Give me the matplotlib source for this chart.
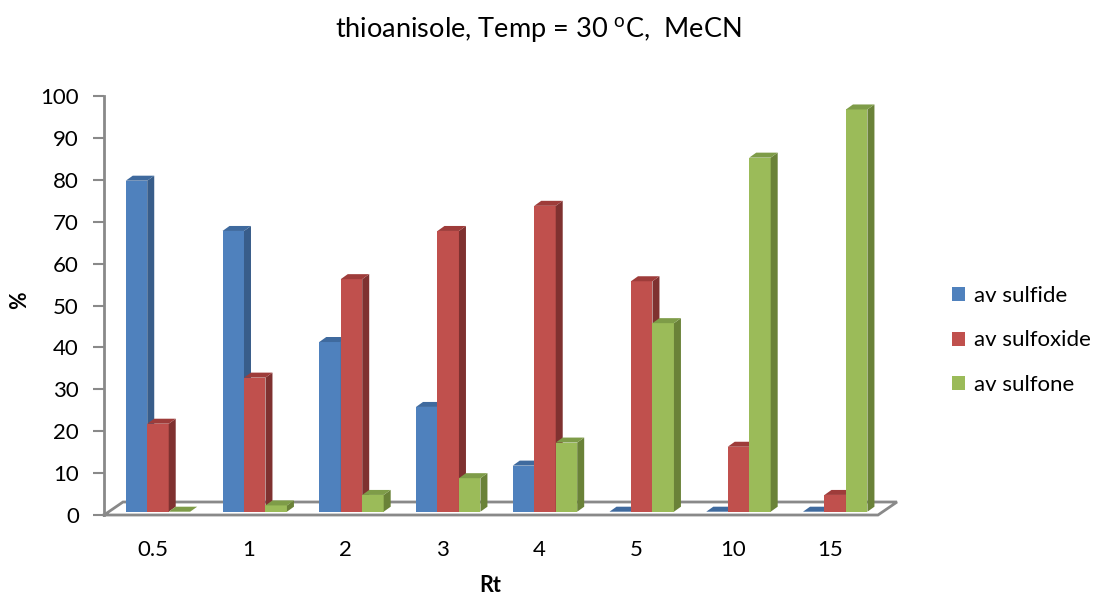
import matplotlib
matplotlib.use("Agg")
import matplotlib.pyplot as plt
from matplotlib.patches import Polygon, Patch

plt.rcParams["font.family"] = ["Lato", "DejaVu Sans"]
plt.rcParams["mathtext.fontset"] = "custom"
plt.rcParams["mathtext.rm"] = "Lato"

# Data
categories = ["0.5", "1", "2", "3", "4", "5", "10", "15"]
series_names = ["av sulfide", "av sulfoxide", "av sulfone"]
sulfide = [79, 67, 40.5, 25, 11, 0, 0, 0]
sulfoxide = [21, 32, 55.5, 67, 73, 55, 15.5, 4]
sulfone = [0, 1.5, 4, 8, 16.5, 45, 84.5, 96]
values = [sulfide, sulfoxide, sulfone]

# (front, side, top) shades per series
shades = [
    ("#4F81BD", "#385D8A", "#3F6A9E"),
    ("#C0504D", "#7F3130", "#9E3C3A"),
    ("#9BBB59", "#6A8238", "#7E9C48"),
]

W, H, DPI = 1097, 597, 100
fig = plt.figure(figsize=(W / DPI, H / DPI), dpi=DPI)
ax_left, ax_bottom, ax_w, ax_h = 104, 82, 774, 419
ax = fig.add_axes([ax_left / W, ax_bottom / H, ax_w / W, ax_h / H])
n = len(categories)
ax.set_xlim(-0.5, n - 0.5)
ax.set_ylim(0, 100)

# pixel -> data unit conversion for the oblique depth
px_x = ax_w / n
px_y = ax_h / 100.0

def dx(px):
    return px / px_x

def dy(px):
    return px / px_y

grey = "#898989"

# floor of the plot (parallelogram)
fd_x, fd_y = dx(19), dy(13)
floor = [(-0.5, 0), (n - 0.5, 0), (n - 0.5 + fd_x, fd_y), (-0.5 + fd_x, fd_y), (-0.5, 0)]
ax.plot([p[0] for p in floor], [p[1] for p in floor], color=grey, lw=2.0,
        clip_on=False, zorder=1, solid_joinstyle="miter")

# bars with front, side and top faces
bw = 0.222
shift_x, shift_y = dx(5.6), dy(3.3)
bd_x, bd_y = dx(7), dy(5)
for i in range(n):
    for j in range(3):
        v = values[j][i]
        x0 = i + shift_x + (j - 1.5) * bw
        x1 = x0 + bw
        y0 = shift_y
        y1 = y0 + v
        front, side, top = shades[j]
        z = 3 + i * 3 + j
        if v > 0:
            ax.add_patch(Polygon([(x0, y0), (x1, y0), (x1, y1), (x0, y1)],
                                 closed=True, facecolor=front, edgecolor="none",
                                 zorder=z, clip_on=False))
            ax.add_patch(Polygon([(x1, y0), (x1 + bd_x, y0 + bd_y), (x1 + bd_x, y1 + bd_y), (x1, y1)],
                                 closed=True, facecolor=side, edgecolor="none",
                                 zorder=z, clip_on=False))
        ax.add_patch(Polygon([(x0, y1), (x1, y1), (x1 + bd_x, y1 + bd_y), (x0 + bd_x, y1 + bd_y)],
                             closed=True, facecolor=top, edgecolor="none",
                             zorder=z, clip_on=False))

# axes styling
for s in ["top", "right", "bottom"]:
    ax.spines[s].set_visible(False)
ax.spines["left"].set_color(grey)
ax.spines["left"].set_linewidth(2.0)
ax.set_yticks(range(0, 101, 10))
ax.tick_params(axis="y", length=8, width=1.5, color=grey, labelsize=16, pad=10)
ax.set_xticks(range(n))
ax.set_xticklabels(categories)
ax.tick_params(axis="x", length=0, labelsize=16, pad=18)
ax.patch.set_alpha(0)

fig.text(538.5 / W, 1 - 30 / H, r"thioanisole, Temp = 30 $^{\mathrm{o}}$C,  MeCN",
         ha="center", va="center", fontsize=19.5)
fig.text(490 / W, 1 - 585 / H, "Rt", ha="center", va="center", fontsize=15.5, fontweight="bold")
fig.text(20 / W, 1 - 300 / H, "%", ha="center", va="center", fontsize=15.5,
         fontweight="bold", rotation=90)

handles = [Patch(facecolor=shades[k][0], edgecolor="none", label=series_names[k]) for k in range(3)]
fig.legend(handles=handles, loc="upper left", bbox_to_anchor=(952 / W, 1 - 286 / H),
           frameon=False, fontsize=16, borderpad=0, borderaxespad=0,
           handlelength=0.58, handleheight=0.58, handletextpad=0.4, labelspacing=1.1)

fig.savefig("out.png", dpi=DPI, facecolor="white")
